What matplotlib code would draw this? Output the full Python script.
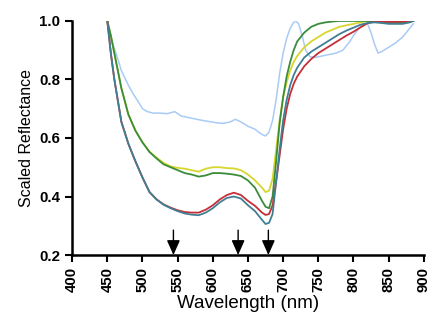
import matplotlib
matplotlib.use("Agg")
import matplotlib.pyplot as plt

plt.rcParams['font.family'] = ['Liberation Sans', 'DejaVu Sans']

# wavelength grid for the four smooth spectra
wl = [450, 455, 460, 470, 480, 490, 500, 510, 520, 530, 540, 550, 560, 570, 580, 590,
      600, 610, 620, 630, 640, 650, 660, 670, 675, 680, 685, 690, 695, 700, 705, 710,
      715, 720, 730, 740, 750, 760, 770, 780, 790, 800, 810, 820, 830, 840, 850, 860,
      870, 880, 885]

teal = [1.0, 0.89, 0.80, 0.655, 0.58, 0.52, 0.465, 0.415, 0.39, 0.372, 0.36, 0.35, 0.342,
        0.338, 0.336, 0.345, 0.36, 0.38, 0.395, 0.40, 0.393, 0.37, 0.35, 0.32, 0.306, 0.31,
        0.34, 0.45, 0.56, 0.66, 0.73, 0.78, 0.815, 0.84, 0.875, 0.895, 0.91, 0.925, 0.94,
        0.955, 0.967, 0.977, 0.987, 0.993, 0.995, 0.993, 0.99, 0.99, 0.99, 0.995, 1.0]

red = [1.0, 0.89, 0.80, 0.655, 0.58, 0.52, 0.465, 0.415, 0.39, 0.373, 0.362, 0.353, 0.347,
       0.345, 0.345, 0.355, 0.37, 0.39, 0.405, 0.413, 0.405, 0.385, 0.368, 0.345, 0.337,
       0.34, 0.37, 0.45, 0.54, 0.63, 0.70, 0.75, 0.785, 0.81, 0.845, 0.87, 0.89, 0.905,
       0.92, 0.935, 0.95, 0.963, 0.978, 0.992, 0.998, 0.998, 0.997, 0.997, 0.998, 0.998, 1.0]

yellow = [1.0, 0.95, 0.89, 0.77, 0.68, 0.625, 0.585, 0.553, 0.533, 0.515, 0.503, 0.498,
          0.495, 0.49, 0.485, 0.495, 0.50, 0.50, 0.497, 0.496, 0.49, 0.475, 0.455, 0.43,
          0.415, 0.42, 0.46, 0.56, 0.66, 0.74, 0.79, 0.83, 0.86, 0.88, 0.91, 0.93, 0.945,
          0.96, 0.97, 0.98, 0.985, 0.99, 0.995, 1.0, 1.0, 0.998, 0.997, 0.995, 0.995, 0.998, 1.0]

green = [1.0, 0.95, 0.89, 0.77, 0.68, 0.625, 0.585, 0.552, 0.53, 0.51, 0.50, 0.49, 0.48,
         0.475, 0.468, 0.472, 0.48, 0.48, 0.478, 0.475, 0.47, 0.455, 0.43, 0.385, 0.365,
         0.36, 0.40, 0.52, 0.65, 0.74, 0.81, 0.86, 0.90, 0.93, 0.96, 0.98, 0.99, 0.995,
         0.998, 1.0, 1.0, 1.0, 1.0, 1.0, 0.998, 0.995, 0.993, 0.993, 0.995, 0.998, 1.0]

# the noisy light blue spectrum
wl_lb = [450, 455, 458, 465, 470, 480, 487, 495, 500, 507, 515, 525, 535, 546, 555, 565,
         575, 585, 595, 605, 615, 625, 632, 640, 650, 660, 665, 670, 675, 680, 685, 690,
         695, 700, 705, 710, 715, 718, 722, 727, 732, 738, 745, 755, 765, 775, 785, 795,
         800, 808, 815, 820, 825, 830, 835, 840, 850, 860, 870, 875, 880, 885]
light_blue = [1.0, 0.95, 0.92, 0.87, 0.83, 0.78, 0.75, 0.72, 0.70, 0.69, 0.685, 0.685,
              0.683, 0.69, 0.675, 0.67, 0.665, 0.66, 0.656, 0.652, 0.65, 0.655, 0.664,
              0.655, 0.64, 0.63, 0.62, 0.612, 0.607, 0.62, 0.66, 0.73, 0.82, 0.89, 0.94,
              0.975, 0.995, 1.0, 0.99, 0.95, 0.90, 0.878, 0.875, 0.88, 0.885, 0.89, 0.90,
              0.93, 0.95, 0.975, 0.99, 0.99, 0.96, 0.92, 0.89, 0.895, 0.91, 0.925, 0.945,
              0.96, 0.975, 0.99]

arrow_wl = [544, 636, 679]

fig = plt.figure(figsize=(4.32, 3.22), dpi=100)
ax = fig.add_axes([0.167, 0.208, 0.814, 0.727])

ax.plot(wl_lb, light_blue, color='#a9cbf5', lw=1.1)
ax.plot(wl, yellow, color='#d6d62e', lw=1.3)
ax.plot(wl, green, color='#3a8c3a', lw=1.3)
ax.plot(wl, red, color='#c62f37', lw=1.3)
ax.plot(wl, teal, color='#3f7f93', lw=1.3)

for a in arrow_wl:
    ax.annotate('', xy=(a, 0.2), xytext=(a, 0.285),
                arrowprops=dict(arrowstyle='-|>,head_length=0.9,head_width=0.4',
                                color='black', lw=1.0, shrinkA=0, shrinkB=0),
                annotation_clip=False)

ax.set_xlim(400, 900)
ax.set_ylim(0.2, 1.0)
ax.set_xticks(range(400, 901, 50))
ax.set_yticks([0.2, 0.4, 0.6, 0.8, 1.0])
ax.set_yticklabels(['0.2', '0.4', '0.6', '0.8', '1.0'])

for s in ['top', 'right']:
    ax.spines[s].set_visible(False)
for s in ['left', 'bottom']:
    ax.spines[s].set_linewidth(1.8)
ax.tick_params(width=1.5, length=5, labelsize=10.8, direction='out')
ax.tick_params(axis='x', labelrotation=90)
for lab in ax.get_xticklabels() + ax.get_yticklabels():
    lab.set_fontweight('bold')

ax.set_xlabel('Wavelength (nm)', fontsize=13.5, labelpad=2)
ax.set_ylabel('Scaled Reflectance', fontsize=11.5, labelpad=4)

fig.savefig('out.png', dpi=100)
